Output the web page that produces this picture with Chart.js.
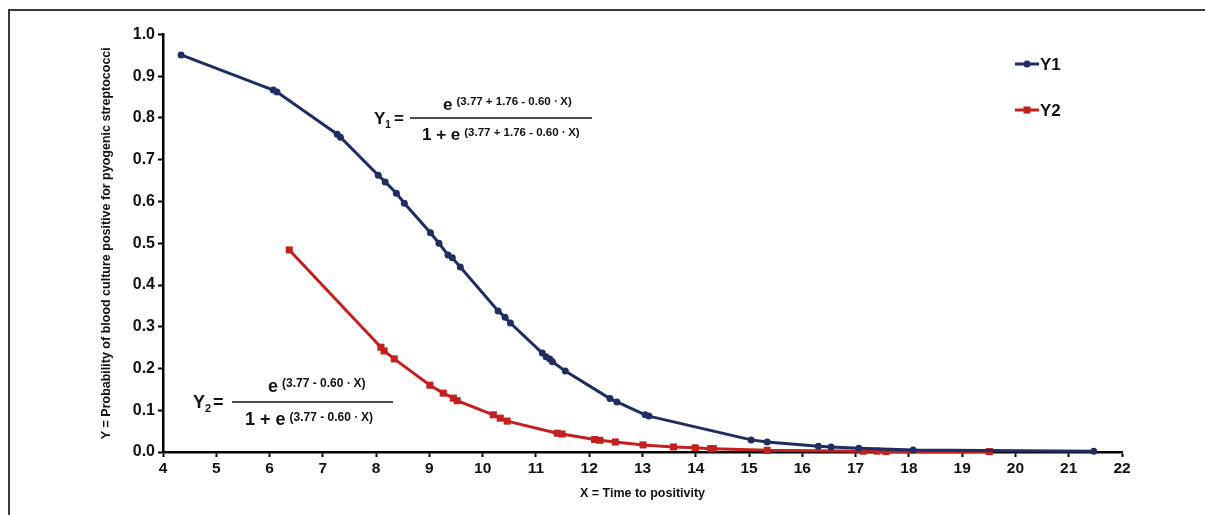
<!DOCTYPE html>
<html><head><meta charset="utf-8">
<script src="https://cdn.jsdelivr.net/npm/chart.js@4.4.1/dist/chart.umd.min.js"></script>
<style>
html,body{margin:0;padding:0;background:#fff;width:1205px;height:515px;overflow:hidden}
#frame{position:absolute;left:8px;top:9px;width:1300px;height:600px;border-top:2px solid #3a3a3a;border-left:2px solid #3a3a3a}
#wrap{position:absolute;left:0;top:0;width:1205px;height:515px}
</style></head><body>
<div id="frame"></div>
<div id="wrap"><canvas id="c" width="1205" height="515"></canvas></div>
<script>
// ---- data ----
const y1Label = 'Y1';
const y1X = [4.34,6.07,6.14,7.27,7.33,8.04,8.17,8.38,8.53,9.02,9.18,9.35,9.43,9.58,10.29,10.42,10.52,11.12,11.19,11.26,11.31,11.55,12.39,12.52,13.05,13.12,15.04,15.34,16.30,16.54,17.06,18.08,21.47];
const y1Y = [0.951,0.867,0.862,0.761,0.754,0.663,0.647,0.620,0.596,0.525,0.500,0.472,0.465,0.443,0.338,0.323,0.309,0.237,0.228,0.223,0.216,0.194,0.128,0.120,0.089,0.086,0.029,0.024,0.014,0.012,0.009,0.005,0.002];
const y2Label = 'Y2';
const y2X = [6.37,8.09,8.15,8.34,9.01,9.26,9.45,9.52,10.20,10.33,10.46,11.40,11.49,12.10,12.20,12.49,13.01,13.58,13.99,14.28,14.33,15.34,17.14,17.40,17.57,19.51];
const y2Y = [0.484,0.251,0.242,0.223,0.160,0.141,0.129,0.123,0.089,0.081,0.074,0.045,0.043,0.030,0.028,0.024,0.017,0.012,0.010,0.008,0.008,0.004,0.002,0.002,0.001,0.001];
const xMin = 4, xMax = 22, xStep = 1;
const yMin = 0, yMax = 1, yStep = 0.1;
const xTitle = 'X = Time to positivity';
const yTitle = 'Y = Probability of blood culture positive for pyogenic streptococci';
const eq1Exp = '(3.77 + 1.76 - 0.60 \u2219 X)';
const eq2Exp = '(3.77 - 0.60 \u2219 X)';

const NAVY = '#1f2d63';
const RED = '#c2211f';
const FONT = '"Liberation Sans", Arial, sans-serif';
const TXT = '#111';

const toPts = (xs, ys) => xs.map((x, i) => ({x, y: ys[i]}));

const overlay = {
  id: 'overlay',
  afterDraw(chart) {
    const ctx = chart.ctx;
    ctx.save();
    ctx.fillStyle = TXT;
    ctx.strokeStyle = TXT;
    ctx.textBaseline = 'alphabetic';
    // legend
    const legendRows = [{ds: chart.data.datasets[0], y: 64}, {ds: chart.data.datasets[1], y: 110}];
    legendRows.forEach(r => {
      ctx.strokeStyle = r.ds.borderColor; ctx.lineWidth = 3;
      ctx.beginPath(); ctx.moveTo(1015, r.y); ctx.lineTo(1039, r.y); ctx.stroke();
      ctx.fillStyle = r.ds.backgroundColor;
      if (r.ds.pointStyle === 'rect') { ctx.fillRect(1023.5, r.y - 3.5, 7, 7); }
      else { ctx.beginPath(); ctx.arc(1027, r.y, 3.5, 0, Math.PI * 2); ctx.fill(); }
      ctx.fillStyle = TXT;
      ctx.font = 'bold 17px ' + FONT;
      ctx.textAlign = 'left'; ctx.textBaseline = 'middle';
      ctx.fillText(r.ds.label, 1040, r.y + 1);
    });
    ctx.textBaseline = 'alphabetic';
    // equation helper
    function eq(o) {
      ctx.fillStyle = TXT; ctx.strokeStyle = TXT;
      ctx.textAlign = 'left';
      ctx.font = 'bold ' + o.big + 'px ' + FONT;
      ctx.fillText('Y', o.yx, o.lineY + o.big * 0.36);
      const yw = ctx.measureText('Y').width;
      ctx.font = 'bold ' + o.sub + 'px ' + FONT;
      ctx.fillText(o.idx, o.yx + yw, o.lineY + o.big * 0.36 + 4);
      ctx.font = 'bold ' + o.big + 'px ' + FONT;
      ctx.fillText('=', o.eqx, o.lineY + o.big * 0.36);
      ctx.lineWidth = 1.6;
      ctx.beginPath(); ctx.moveTo(o.l1, o.lineY); ctx.lineTo(o.l2, o.lineY); ctx.stroke();
      // numerator
      ctx.font = 'bold ' + o.big + 'px ' + FONT;
      ctx.fillText('e', o.nx, o.numBase);
      const ew = ctx.measureText('e').width;
      ctx.font = 'bold ' + o.sup + 'px ' + FONT;
      ctx.fillText(o.exp, o.nx + ew + 4, o.numBase - 5);
      // denominator
      ctx.font = 'bold ' + o.big + 'px ' + FONT;
      ctx.fillText('1 + e', o.dx, o.denBase);
      const dw = ctx.measureText('1 + e').width;
      ctx.font = 'bold ' + o.sup + 'px ' + FONT;
      ctx.fillText(o.exp, o.dx + dw + 4, o.denBase - 4);
    }
    eq({idx: '1', exp: eq1Exp, big: 17, sub: 10, sup: 11.5, yx: 374, eqx: 394, l1: 410, l2: 592, lineY: 118,
        nx: 443, numBase: 110, dx: 422, denBase: 140});
    eq({idx: '2', exp: eq2Exp, big: 18, sub: 11, sup: 12, yx: 193, eqx: 213, l1: 232, l2: 393, lineY: 402,
        nx: 268, numBase: 392, dx: 245, denBase: 425});
    ctx.restore();
  }
};

new Chart(document.getElementById('c'), {
  type: 'line',
  data: {
    datasets: [
      {label: y1Label, data: toPts(y1X, y1Y), borderColor: NAVY, backgroundColor: NAVY, borderWidth: 3,
       pointStyle: 'circle', pointRadius: 3.5, pointBorderWidth: 0, pointBackgroundColor: NAVY, tension: 0, clip: false},
      {label: y2Label, data: toPts(y2X, y2Y), borderColor: RED, backgroundColor: RED, borderWidth: 3,
       pointStyle: 'rect', pointRadius: 5, pointBorderWidth: 0, pointBackgroundColor: RED, tension: 0, clip: false}
    ]
  },
  options: {
    responsive: false, animation: false, devicePixelRatio: 1,
    layout: {padding: {left: 0, right: 83, top: 34.5, bottom: 0}},
    plugins: {legend: {display: false}, tooltip: {enabled: false}},
    scales: {
      x: {
        type: 'linear', min: xMin, max: xMax,
        ticks: {stepSize: xStep, color: TXT, font: {family: FONT, size: 15.5, weight: 'bold'}, padding: 2, maxRotation: 0},
        grid: {drawOnChartArea: false, drawTicks: true, tickLength: 5, tickColor: '#000', tickWidth: 2},
        border: {color: '#000', width: 2.5},
        title: {display: true, text: xTitle, color: TXT, font: {family: FONT, size: 12.5, weight: 'bold'}, padding: {top: 0, bottom: 13.5}},
        afterFit: s => { s.height = 63; }
      },
      y: {
        type: 'linear', min: yMin, max: yMax,
        ticks: {stepSize: yStep, color: TXT, font: {family: FONT, size: 16, weight: 'bold'}, padding: 3,
                callback: v => v.toFixed(1)},
        grid: {drawOnChartArea: false, drawTicks: true, tickLength: 5, tickColor: '#000', tickWidth: 2},
        border: {color: '#000', width: 2.5},
        title: {display: true, text: yTitle, color: TXT, font: {family: FONT, size: 12.5, weight: 'bold'}, padding: {top: 99.5, bottom: 0}},
        afterFit: s => { s.width = 163; }
      }
    }
  },
  plugins: [overlay]
});
</script>
</body></html>
